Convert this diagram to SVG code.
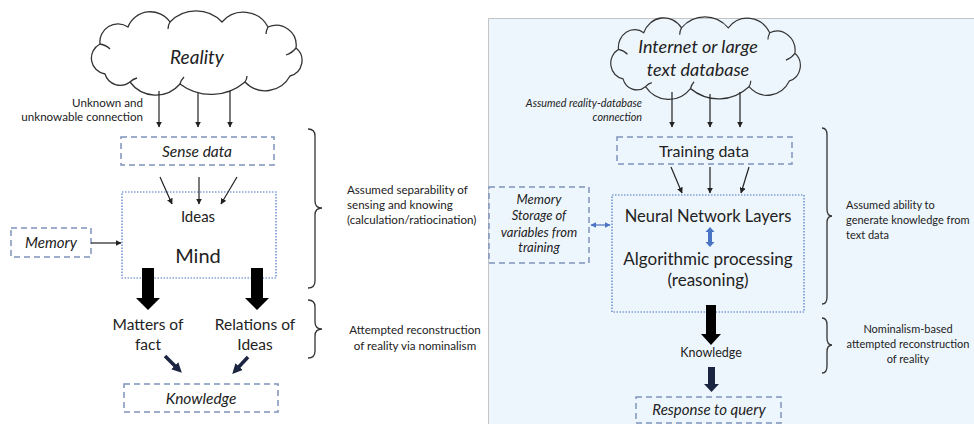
<svg xmlns="http://www.w3.org/2000/svg" width="974" height="424" viewBox="0 0 974 424">
  <style>
    text { font-family: Lato, "Liberation Sans", sans-serif; fill: #222; }
    .it { font-style: italic; }
    .mid { text-anchor: middle; }
    .end { text-anchor: end; }
    .note { font-size: 11px; }
    .note-l { font-size: 11.6px; }
    .dash { fill: none; stroke: #7F93BA; stroke-width: 1.5; stroke-dasharray: 6 4; }
    .dot { fill: none; stroke: #4A74C4; stroke-width: 1.2; stroke-dasharray: 1.5 1.5; }
    .thin { fill: none; stroke: #222; stroke-width: 1.2; marker-end: url(#tip); }
    .cloud { fill: none; stroke: #333; stroke-width: 1.3; }
    .brace { fill: none; stroke: #333; stroke-width: 1.3; }
    .block { fill: #000; }
    .navy { fill: #1B2440; }
  </style>
  <defs>
    <marker id="tip" viewBox="0 0 10 10" refX="9" refY="5" markerWidth="6" markerHeight="6" orient="auto" markerUnits="userSpaceOnUse">
      <path d="M0 0 L10 5 L0 10 Z" fill="#222"/>
    </marker>
    <marker id="btip" viewBox="0 0 10 10" refX="9" refY="5" markerWidth="6" markerHeight="6" orient="auto-start-reverse" markerUnits="userSpaceOnUse">
      <path d="M0 0 L10 5 L0 10 Z" fill="#4A74C4"/>
    </marker>
    <marker id="ntip" viewBox="0 0 10 10" refX="6" refY="5" markerWidth="10" markerHeight="10" orient="auto" markerUnits="userSpaceOnUse">
      <path d="M0 0 L10 5 L0 10 Z" fill="#1B2440"/>
    </marker>
    <!-- cloud outline plus the short inner creases between lobes -->
    <g id="cloud">
      <path d="M105 74 A16 16 0 0 1 100 44 A18 18 0 0 1 128 27 A24 24 0 0 1 170 22 A36 36 0 0 1 222 22 A28 28 0 0 1 268 27 A20 20 0 0 1 296 48 A16 16 0 0 1 290 76 A28 28 0 0 1 245 82 A52 52 0 0 1 180 84 A32 32 0 0 1 130 82 A16 16 0 0 1 105 74 Z"/>
      <path d="M100 44 Q106 45 110 49 M170 22 Q168 25 168 29 M268 27 Q266 31 266 34 M296 48 Q292 53 286 55 M245 82 Q247 79 247 76 M180 84 Q181 80 184 77 M130 82 Q133 79 137 78"/>
    </g>
  </defs>

  <rect width="974" height="424" fill="#fff"/>

  <!-- right-hand panel -->
  <g id="panel-llm">
    <rect x="488" y="18" width="490" height="410" fill="#EEF6FD"/>
    <path d="M488.5 424 V18.5 H974" fill="none" stroke="#C4C4C4" stroke-width="1"/>
  </g>

  <!-- left-hand diagram: empiricist model -->
  <g id="reality">
    <use href="#cloud" class="cloud"/>
    <text x="197" y="64" class="it mid" font-size="19">Reality</text>
  </g>
  <g id="unknown-label">
    <text x="143" y="107" class="end note-l">Unknown and</text>
    <text x="143" y="121" class="end note-l">unknowable connection</text>
  </g>
  <g id="sense-data">
    <rect x="121" y="137" width="153" height="28" class="dash"/>
    <text x="197" y="157" class="it mid" font-size="15.5">Sense data</text>
  </g>
  <g id="mind">
    <rect x="122" y="192" width="154" height="86" class="dot"/>
    <text x="198" y="222" class="mid" font-size="15">Ideas</text>
    <text x="198" y="263" class="mid" font-size="20">Mind</text>
  </g>
  <g id="memory-left">
    <rect x="11" y="228" width="80" height="29" class="dash"/>
    <text x="51" y="248" class="it mid" font-size="15">Memory</text>
  </g>
  <g id="matters-of-fact">
    <text x="148" y="330" class="mid" font-size="15.5">Matters of</text>
    <text x="148" y="350" class="mid" font-size="15.5">fact</text>
  </g>
  <g id="relations-of-ideas">
    <text x="255" y="330" class="mid" font-size="15.5">Relations of</text>
    <text x="255" y="350" class="mid" font-size="15.5">Ideas</text>
  </g>
  <g id="knowledge-left">
    <rect x="124" y="384" width="154" height="28" class="dash"/>
    <text x="201" y="404" class="it mid" font-size="15.5">Knowledge</text>
  </g>
  <g id="notes-left">
    <path class="brace" d="M308 129 Q315 129 315 136 V201 Q315 208 322 208 Q315 208 315 215 V281 Q315 288 308 288"/>
    <text x="347" y="194" class="note-l">Assumed separability of</text>
    <text x="347" y="209" class="note-l">sensing and knowing</text>
    <text x="347" y="224" class="note-l">(calculation/ratiocination)</text>
    <path class="brace" d="M308 300 Q315 300 315 307 V322 Q315 329 322 329 Q315 329 315 336 V351 Q315 358 308 358"/>
    <text x="415" y="334" class="mid note-l">Attempted reconstruction</text>
    <text x="415" y="350" class="mid note-l">of reality via nominalism</text>
  </g>

  <!-- right-hand diagram: language model -->
  <g id="text-database">
    <use href="#cloud" class="cloud" transform="translate(528.5 6.3) scale(0.9 0.98)"/>
    <text x="698" y="53" class="it mid" font-size="18">Internet or large</text>
    <text x="698" y="76" class="it mid" font-size="18">text database</text>
  </g>
  <g id="assumed-label">
    <text x="642" y="107" class="it end" font-size="10.8">Assumed reality-database</text>
    <text x="642" y="121" class="it end" font-size="10.8">connection</text>
  </g>
  <g id="training-data">
    <rect x="617" y="137" width="175" height="27" class="dash"/>
    <text x="704" y="157" class="mid" font-size="16">Training data</text>
  </g>
  <g id="nn-layers">
    <rect x="612" y="195" width="192" height="117" class="dot"/>
    <text x="708" y="222" class="mid" font-size="16.5">Neural Network Layers</text>
    <polygon points="710,227 714.5,232 712,232 712,242 714.5,242 710,247 705.5,242 708,242 708,232 705.5,232" fill="#4A74C4"/>
    <text x="708" y="265" class="mid" font-size="17">Algorithmic processing</text>
    <text x="708" y="286" class="mid" font-size="17">(reasoning)</text>
  </g>
  <g id="memory-right">
    <rect x="489" y="187" width="100" height="76" class="dash"/>
    <text x="539" y="204" class="it mid" font-size="13">Memory</text>
    <text x="539" y="220" class="it mid" font-size="13">Storage of</text>
    <text x="539" y="237" class="it mid" font-size="13">variables from</text>
    <text x="539" y="252" class="it mid" font-size="13">training</text>
  </g>
  <g id="knowledge-right">
    <text x="711" y="357" class="mid" font-size="12.5">Knowledge</text>
  </g>
  <g id="response">
    <rect x="636" y="397" width="145" height="26" class="dash"/>
    <text x="709" y="415" class="it mid" font-size="15">Response to query</text>
  </g>
  <g id="notes-right">
    <path class="brace" d="M822 128 Q827 128 827 135 V209 Q827 216 832 216 Q827 216 827 223 V297 Q827 304 822 304"/>
    <text x="846" y="209" class="note">Assumed ability to</text>
    <text x="846" y="224" class="note">generate knowledge from</text>
    <text x="846" y="239" class="note">text data</text>
    <path class="brace" d="M822 318 Q827 318 827 325 V338 Q827 345 832 345 Q827 345 827 352 V366 Q827 373 822 373"/>
    <text x="908" y="333" class="mid note">Nominalism-based</text>
    <text x="908" y="348" class="mid note">attempted reconstruction</text>
    <text x="908" y="363" class="mid note">of reality</text>
  </g>

  <g id="connectors">
    <!-- reality to sense data -->
    <line x1="159" y1="91" x2="159" y2="127" class="thin"/>
    <line x1="198" y1="93" x2="198" y2="127" class="thin"/>
    <line x1="230" y1="91" x2="230" y2="127" class="thin"/>
    <!-- sense data to ideas -->
    <line x1="160" y1="177" x2="172" y2="204" class="thin"/>
    <line x1="199" y1="177" x2="199" y2="204" class="thin"/>
    <line x1="237" y1="177" x2="221" y2="204" class="thin"/>
    <!-- memory to mind -->
    <line x1="91" y1="243" x2="121" y2="243" class="thin"/>
    <!-- mind to matters of fact / relations of ideas -->
    <polygon class="block" points="142,268 154,268 154,298 160,298 148,310 136,298 142,298"/>
    <polygon class="block" points="251,268 263,268 263,298 269,298 257,310 245,298 251,298"/>
    <!-- into knowledge -->
    <line x1="165" y1="356" x2="179" y2="370" stroke="#1B2440" stroke-width="3.5" marker-end="url(#ntip)"/>
    <line x1="248" y1="357" x2="235" y2="371" stroke="#1B2440" stroke-width="3.5" marker-end="url(#ntip)"/>

    <!-- database to training data -->
    <line x1="672" y1="92" x2="672" y2="127" class="thin"/>
    <line x1="710" y1="94" x2="710" y2="127" class="thin"/>
    <line x1="740" y1="92" x2="740" y2="127" class="thin"/>
    <!-- training data to layers -->
    <line x1="671" y1="167" x2="682" y2="193" class="thin"/>
    <line x1="710" y1="167" x2="710" y2="193" class="thin"/>
    <line x1="749" y1="167" x2="741" y2="193" class="thin"/>
    <!-- memory and layers -->
    <line x1="591" y1="225" x2="610" y2="225" stroke="#4A74C4" stroke-width="1.2" marker-start="url(#btip)" marker-end="url(#btip)"/>
    <!-- layers to knowledge to response -->
    <polygon class="block" points="706,305 716,305 716,334 721,334 711,345 701,334 706,334"/>
    <polygon class="navy" points="708,367 715,367 715,384 719,384 711.5,392 704,384 708,384"/>
  </g>
</svg>
